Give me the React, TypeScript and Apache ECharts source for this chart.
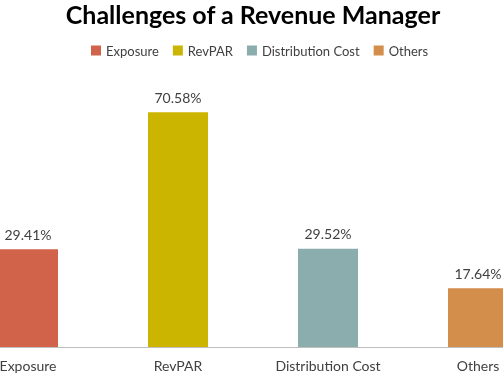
import React, { useEffect, useRef } from "react";
import * as echarts from "echarts";

const categories = ["Exposure", "RevPAR", "Distribution Cost", "Others"];
const values = [29.41, 70.58, 29.52, 17.64];
const colors = ["#D0634A", "#CCB500", "#8CADAD", "#D28E4A"];

export default function App() {
  const ref = useRef<HTMLDivElement>(null);
  useEffect(() => {
    const chart = echarts.init(ref.current!, null, { renderer: "svg" });
    const font = "Lato, Open Sans, sans-serif";
    chart.setOption({
      animation: false,
      title: {
        text: "Challenges of a Revenue Manager",
        left: "center",
        top: -4,
        textStyle: { fontFamily: font, fontWeight: "bold", fontSize: 25, color: "#000" },
      },
      legend: {
        top: 39,
        left: 133,
        icon: "rect",
        itemWidth: 10,
        itemHeight: 10,
        itemGap: 14,
        itemTextGap: 2,
        textStyle: { fontFamily: font, fontSize: 13, color: "#404040" },
        data: categories,
      },
      grid: { left: 0, right: 0, top: 81, bottom: 26, containLabel: false },
      xAxis: {
        type: "category",
        data: categories,
        axisLine: { lineStyle: { color: "#BFBFBF", width: 1 } },
        axisTick: { show: false },
        axisLabel: { fontFamily: font, fontSize: 14, color: "#404040", margin: 11, interval: 0 },
      },
      yAxis: { type: "value", min: 0, max: 80, show: false, splitLine: { show: false } },
      series: categories.map((c, i) => ({
        name: c,
        type: "bar",
        barWidth: 60,
        barGap: "-100%",
        itemStyle: { color: colors[i] },
        label: {
          show: true,
          position: "top",
          distance: 8,
          formatter: "{c}%",
          fontFamily: font,
          fontSize: 14,
          color: "#404040",
        },
        data: values.map((v, j) => (j === i ? v : null)),
      })),
    });
    return () => chart.dispose();
  }, []);
  return (
    <div style={{ position: "fixed", left: 0, top: 0, width: 503, height: 373, overflow: "hidden" }}>
      <div ref={ref} style={{ position: "absolute", left: -47, top: 0, width: 600, height: 373 }} />
    </div>
  );
}
